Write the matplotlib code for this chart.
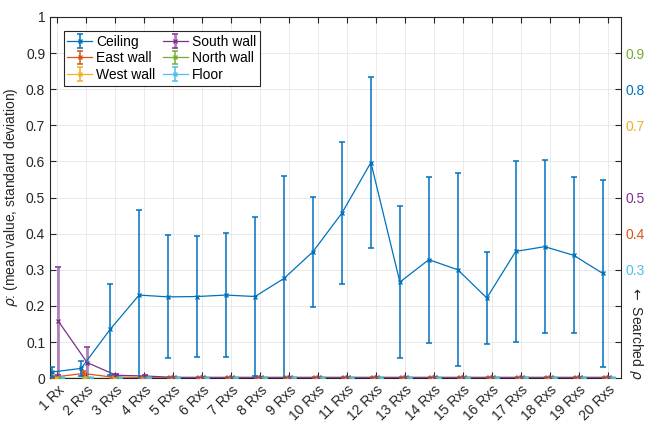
import matplotlib

matplotlib.use("Agg")
import matplotlib.pyplot as plt
import numpy as np

plt.rcParams["font.family"] = ["Liberation Sans", "DejaVu Sans"]
plt.rcParams["font.size"] = 10

# MATLAB default line colours, one per surface
SURFACES = ["Ceiling", "East wall", "West wall", "South wall", "North wall", "Floor"]
COLORS = ["#0072BD", "#D95319", "#EDB120", "#7E2F8E", "#77AC30", "#4DBEEE"]
SEARCHED_RHO = [0.8, 0.4, 0.7, 0.5, 0.9, 0.3]

RX_LABELS = ["1 Rx"] + [f"{n} Rxs" for n in range(2, 21)]

ceiling_mean = [0.017, 0.027, 0.135, 0.230, 0.225, 0.226, 0.230, 0.226, 0.276, 0.350,
                0.457, 0.597, 0.266, 0.328, 0.300, 0.222, 0.351, 0.364, 0.340, 0.290]
ceiling_std = [0.015, 0.021, 0.125, 0.235, 0.170, 0.168, 0.172, 0.220, 0.285, 0.152,
               0.196, 0.238, 0.211, 0.230, 0.267, 0.128, 0.251, 0.240, 0.216, 0.259]
east_mean = [0.003, 0.013, 0.003, 0.002, 0.002, 0.002, 0.002, 0.002, 0.002, 0.002,
             0.002, 0.002, 0.002, 0.002, 0.002, 0.002, 0.002, 0.002, 0.002, 0.002]
east_std = [0.002, 0.008, 0.002, 0.001, 0.001, 0.001, 0.001, 0.001, 0.001, 0.001,
            0.001, 0.001, 0.001, 0.001, 0.001, 0.001, 0.001, 0.001, 0.001, 0.001]
west_mean = [0.001] * 20
west_std = [0.001] * 20
south_mean = [0.158, 0.043, 0.008, 0.006, 0.002, 0.002, 0.002, 0.002, 0.002, 0.002,
              0.002, 0.002, 0.002, 0.002, 0.002, 0.002, 0.002, 0.002, 0.002, 0.002]
south_std = [0.150, 0.044, 0.003, 0.003, 0.001, 0.001, 0.001, 0.001, 0.001, 0.001,
             0.001, 0.001, 0.001, 0.001, 0.001, 0.001, 0.001, 0.001, 0.001, 0.001]
north_mean = [0.001] * 20
north_std = [0.0005] * 20
floor_mean = [0.0] * 20
floor_std = [0.0] * 20

MEANS = [ceiling_mean, east_mean, west_mean, south_mean, north_mean, floor_mean]
STDS = [ceiling_std, east_std, west_std, south_std, north_std, floor_std]

fig = plt.figure(figsize=(6.45, 4.23), dpi=100)
ax = fig.add_axes([0.0775, 0.106, 0.885, 0.854])

x = np.arange(1, 21)
handles = []
for i, (name, color) in enumerate(zip(SURFACES, COLORS)):
    off = (i - 2.5) * 0.07
    bar_lw = 2.0 if name == "South wall" else 1.1
    h = ax.errorbar(
        x + off, MEANS[i], yerr=STDS[i],
        color=color, marker="x", markersize=3.5, lw=0.9,
        elinewidth=bar_lw, capsize=2.5, capthick=1.1,
        label=name, zorder=3 + (i == 0),
    )
    if name == "South wall":
        h[2][0].set_alpha(0.6)
    handles.append(h)

ax.set_xlim(0.75, 20.45)
ax.set_ylim(0, 1)
ax.set_yticks(np.arange(0, 1.01, 0.1))
ax.set_yticklabels(["0"] + [f"{v:.1f}" for v in np.arange(0.1, 0.95, 0.1)] + ["1"])
ax.set_xticks(x)
ax.set_xticklabels(RX_LABELS, rotation=45, ha="right", rotation_mode="anchor")
ax.tick_params(direction="in", top=True, right=False, length=4, colors="#262626",
               labelsize=10)
ax.grid(True, color="#e6e6e6", lw=0.6, zorder=0)
ax.set_axisbelow(True)
for s in ax.spines.values():
    s.set_color("#262626")
    s.set_linewidth(0.8)
ax.set_ylabel(r"$\rho$: (mean value, standard deviation)", fontsize=10, color="#262626")

# right axis marks the searched value of each surface
ax2 = ax.twinx()
ax2.set_ylim(0, 1)
ax2.set_yticks(np.arange(0.1, 0.95, 0.1))
labels = []
for v in np.arange(0.1, 0.95, 0.1):
    labels.append(f"{v:.1f}" if any(abs(v - r) < 1e-6 for r in SEARCHED_RHO) else "")
ax2.set_yticklabels(labels)
ax2.tick_params(direction="in", length=4, labelsize=10, colors="#262626")
for tl, v in zip(ax2.get_yticklabels(), np.arange(0.1, 0.95, 0.1)):
    for r, c in zip(SEARCHED_RHO, COLORS):
        if abs(v - r) < 1e-6:
            tl.set_color(c)
for s in ax2.spines.values():
    s.set_visible(False)
ax.text(1.026, 0.127, r"$\leftarrow$ Searched $\rho$", transform=ax.transAxes,
        rotation=270, ha="center", va="center", fontsize=10, color="#262626")

leg = ax.legend(handles=handles, ncol=2, loc="upper left", fontsize=10,
                fancybox=False, edgecolor="#262626", framealpha=1,
                handlelength=1.8, columnspacing=0.5, handletextpad=0.3,
                borderpad=0.25, labelspacing=0.2, bbox_to_anchor=(0.012, 0.98))
leg.get_frame().set_linewidth(0.8)

fig.savefig("out.png", dpi=100)
